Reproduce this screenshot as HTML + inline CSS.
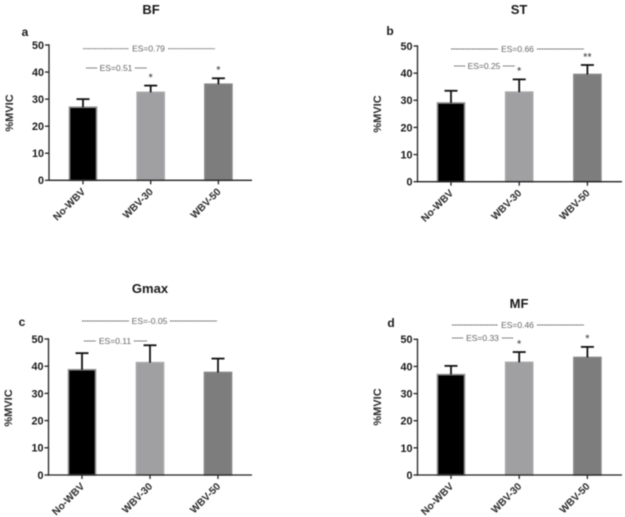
<!DOCTYPE html>
<html lang="en">
<head>
<meta charset="utf-8">
<title>%MVIC by muscle and vibration condition</title>
<style>
html,body{margin:0;padding:0;background:#fff;width:625px;height:517px;overflow:hidden}
svg{display:block;font-family:"Liberation Sans",sans-serif;filter:blur(0.4px)}
</style>
</head>
<body>
<svg id="figure" xmlns="http://www.w3.org/2000/svg" width="625" height="517" viewBox="0 0 625 517"></svg>
<script>
// Shared axis data
const categories = ['No-WBV', 'WBV-30', 'WBV-50'];
const yTicks = [0, 10, 20, 30, 40, 50];

// Values: bar heights and top of the error bar
const bfValues = [27, 32.5, 35.5];
const bfErrorTops = [30, 35, 37.7];
const bfStars = ['', '*', '*'];

const stValues = [29, 33, 39.5];
const stErrorTops = [33.5, 37.7, 43];
const stStars = ['', '*', '**'];

const gmaxValues = [38.7, 41.3, 37.7];
const gmaxErrorTops = [44.8, 47.7, 42.8];
const gmaxStars = ['', '', ''];

const mfValues = [37, 41.5, 43.3];
const mfErrorTops = [40.2, 45.3, 47.2];
const mfStars = ['', '*', '*'];

const barFills = ['#000000', '#a0a0a3', '#7d7d7d'];
const barStrokes = ['#8f8f8f', '#a8a8aa', '#858585'];

const NS = 'http://www.w3.org/2000/svg';
const svg = document.getElementById('figure');

function make(parent, tag, attrs, text) {
  const el = document.createElementNS(NS, tag);
  for (const key in attrs) el.setAttribute(key, attrs[key]);
  if (text !== undefined) el.textContent = text;
  parent.appendChild(el);
  return el;
}

function drawPanel(p) {
  const yScale = v => p.y0 - (v / 50) * (p.y0 - p.y50);
  const xScale = i => p.firstCenter + i * p.step;

  const g = make(svg, 'g', {});
  
  

  const title = make(g, 'text', {x: p.titleX, y: p.titleY, 'text-anchor': 'middle', 'font-size': 13, 'font-weight': 'bold', fill: '#1a1a1a'}, p.title);
  
  

  const letter = make(g, 'text', {x: p.letterX, y: p.letterY, 'text-anchor': 'middle', 'font-size': 12, 'font-weight': 'bold', fill: '#1a1a1a'}, p.id);
  
  

  const yTitle = make(g, 'text', {x: 0, y: 0, transform: 'translate(' + p.yTitleX + ' ' + p.yTitleY + ') rotate(-90)', 'text-anchor': 'middle', 'font-size': 11, 'font-weight': 'bold', fill: '#2a2a2a'}, '%MVIC');
  
  

  // Bars
  p.values.forEach((v, i) => {
    const cx = xScale(i);
    const bar = make(g, 'rect', {x: cx - 13.5, y: yScale(v), width: 27, height: p.y0 - yScale(v), fill: barFills[i], stroke: barStrokes[i], 'stroke-width': 1.6});
    
    

    const stem = make(g, 'line', {x1: cx, x2: cx, y1: yScale(v), y2: yScale(p.tops[i]), stroke: '#111', 'stroke-width': 1.8});
    
    

    const cap = make(g, 'line', {x1: cx - 6.5, x2: cx + 6.5, y1: yScale(p.tops[i]), y2: yScale(p.tops[i]), stroke: '#111', 'stroke-width': 1.8});
    
    

    if (p.stars[i]) {
      const star = make(g, 'text', {x: cx, y: yScale(p.tops[i]) - 4.7, 'text-anchor': 'middle', 'font-size': 11, fill: '#333'}, p.stars[i]);
      
      
    }
  });

  // Y axis
  const yAxis = make(g, 'line', {x1: p.axisX, x2: p.axisX, y1: p.y50 - 0.7, y2: p.y0 + 0.7, stroke: '#222', 'stroke-width': 1.3});
  
  

  yTicks.forEach(t => {
    const tick = make(g, 'line', {x1: p.axisX - 4, x2: p.axisX, y1: yScale(t), y2: yScale(t), stroke: '#222', 'stroke-width': 1.3});
    
    

    const label = make(g, 'text', {x: p.axisX - 5, y: yScale(t) + 3.9, 'text-anchor': 'end', 'font-size': 10.8, 'font-weight': 'bold', fill: '#1a1a1a'}, t);
    
    
  });

  // X axis
  const xAxis = make(g, 'line', {x1: p.axisX, x2: p.axisEnd, y1: p.y0, y2: p.y0, stroke: '#222', 'stroke-width': 1.3});
  
  

  categories.forEach((c, i) => {
    const cx = xScale(i);
    const tick = make(g, 'line', {x1: cx, x2: cx, y1: p.y0, y2: p.y0 + 4, stroke: '#222', 'stroke-width': 1.3});
    
    

    const lx = cx + 3;
    const ly = p.y0 + 12;
    const label = make(g, 'text', {x: lx, y: ly, transform: 'rotate(-45 ' + lx + ' ' + ly + ')', 'text-anchor': 'end', 'font-size': 10.2, 'font-weight': 'bold', fill: '#2a2a2a'}, c);
    
    
  });

  // Effect-size brackets
  p.effects.forEach(e => {
    const left = make(g, 'line', {x1: e.x1, x2: e.gap1, y1: e.y, y2: e.y, stroke: '#666', 'stroke-width': 0.9, 'stroke-dasharray': '1.8 0.5'});
    
    

    const right = make(g, 'line', {x1: e.gap2, x2: e.x2, y1: e.y, y2: e.y, stroke: '#666', 'stroke-width': 0.9, 'stroke-dasharray': '1.8 0.5'});
    
    

    const label = make(g, 'text', {x: (e.gap1 + e.gap2) / 2, y: e.y + 3, 'text-anchor': 'middle', 'font-size': 8.5, fill: '#666'}, e.label);
    
    
  });
}

drawPanel({id: 'a', title: 'BF', values: bfValues, tops: bfErrorTops, stars: bfStars,
  axisX: 49, axisEnd: 252, y0: 180.3, y50: 45, firstCenter: 83, step: 67.7,
  titleX: 151, titleY: 14, letterX: 25, letterY: 36, yTitleX: 13, yTitleY: 113,
  effects: [
    {x1: 83, gap1: 129, gap2: 168, x2: 215, y: 48.7, label: 'ES=0.79'},
    {x1: 86, gap1: 97, gap2: 135, x2: 147, y: 68, label: 'ES=0.51'}
  ]});

drawPanel({id: 'b', title: 'ST', values: stValues, tops: stErrorTops, stars: stStars,
  axisX: 417.5, axisEnd: 622, y0: 181.7, y50: 46, firstCenter: 451, step: 68.2,
  titleX: 519, titleY: 14, letterX: 390, letterY: 35, yTitleX: 381, yTitleY: 114,
  effects: [
    {x1: 451, gap1: 498, gap2: 537, x2: 584, y: 49, label: 'ES=0.66'},
    {x1: 454, gap1: 465, gap2: 503, x2: 515, y: 66, label: 'ES=0.25'}
  ]});

drawPanel({id: 'c', title: 'Gmax', values: gmaxValues, tops: gmaxErrorTops, stars: gmaxStars,
  axisX: 48.5, axisEnd: 252, y0: 475, y50: 339, firstCenter: 82, step: 68,
  titleX: 150, titleY: 293, letterX: 22, letterY: 326, yTitleX: 12, yTitleY: 408,
  effects: [
    {x1: 82, gap1: 129, gap2: 170, x2: 217, y: 321, label: 'ES=-0.05'},
    {x1: 84, gap1: 96, gap2: 134, x2: 147, y: 341, label: 'ES=0.11'}
  ]});

drawPanel({id: 'd', title: 'MF', values: mfValues, tops: mfErrorTops, stars: mfStars,
  axisX: 417.5, axisEnd: 622, y0: 475, y50: 339.3, firstCenter: 451, step: 68.2,
  titleX: 519, titleY: 308, letterX: 391, letterY: 327, yTitleX: 381, yTitleY: 407,
  effects: [
    {x1: 452, gap1: 498, gap2: 537, x2: 584, y: 325, label: 'ES=0.46'},
    {x1: 452, gap1: 463, gap2: 502, x2: 513, y: 338, label: 'ES=0.33'}
  ]});
</script>
</body>
</html>
